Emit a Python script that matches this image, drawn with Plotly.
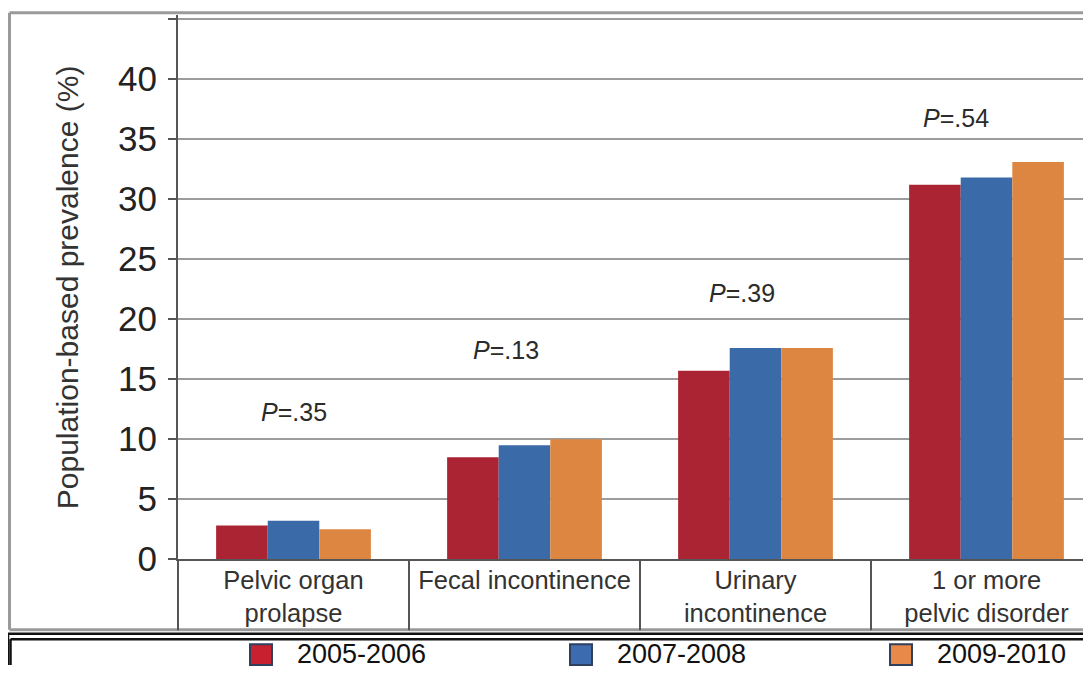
import plotly.graph_objects as go

# ---- data ----
categories = ["Pelvic organ<br>prolapse", "Fecal incontinence", "Urinary<br>incontinence", "1 or more<br>pelvic disorder"]
series_names = ["2005-2006", "2007-2008", "2009-2010"]
vals_2005_2006 = [2.8, 8.5, 15.7, 31.2]
vals_2007_2008 = [3.2, 9.5, 17.6, 31.8]
vals_2009_2010 = [2.5, 10.0, 17.6, 33.1]
p_labels = ["<i>P</i>=.35", "<i>P</i>=.13", "<i>P</i>=.39", "<i>P</i>=.54"]
y_ticks = [0, 5, 10, 15, 20, 25, 30, 35, 40, 45]

# ---- style / geometry ----
WIN_W = 1091
OFF = 8          # page body margin
S = 0.972        # observed vertical page-to-picture scale
W, H = WIN_W - 2 * OFF, 676
FONT = "Liberation Sans, Arial, Helvetica, sans-serif"
bar_colors = ["#AA2434", "#3B6AA9", "#DD8642"]
legend_colors = ["#C8202E", "#3D6BB0", "#E8894A"]

def px_x(p):
    return min(max((p - OFF) / W, 0.0), 1.0)

def px_y(p):
    return min(max(1 - (p / S - OFF) / H, 0.0), 1.0)

x_pos = list(range(len(categories)))
series_vals = [vals_2005_2006, vals_2007_2008, vals_2009_2010]

fig = go.Figure()
for name, vals, col in zip(series_names, series_vals, bar_colors):
    fig.add_trace(go.Bar(x=x_pos, y=vals, name=name, marker=dict(color=col, line=dict(width=0)),
                         showlegend=False))

x_left_px, cat_w_px = 178, 231
y_zero_px, y_unit_px, y_top_px = 559, 12.0, 15
x_range = [-0.5, -0.5 + (OFF + W - x_left_px) / cat_w_px]
y_range = [0, (y_zero_px - y_top_px) / y_unit_px]

fig.update_layout(
    width=W, height=H, autosize=False,
    margin=dict(l=0, r=0, t=0, b=0),
    paper_bgcolor="white", plot_bgcolor="white",
    barmode="group", bargap=0.33, bargroupgap=0,
    font=dict(family=FONT, color="#2b2b2b"),
    xaxis=dict(
        domain=[px_x(x_left_px), 1], range=x_range,
        tickvals=x_pos, ticktext=categories,
        tickfont=dict(size=25.5, color="#333333", family=FONT),
        ticks="", showgrid=False, zeroline=False,
        showline=True, linecolor="#555555", linewidth=2,
        ticklabelstandoff=-3,
    ),
    yaxis=dict(
        domain=[px_y(y_zero_px), px_y(y_top_px)], range=y_range,
        tickvals=y_ticks, ticktext=[str(t) for t in y_ticks],
        tickfont=dict(size=35, color="#222222", family=FONT),
        ticks="outside", ticklen=8, tickwidth=2, tickcolor="#555555",
        showgrid=True, gridcolor="#9c9c9c", gridwidth=2,
        zeroline=False, showline=True, linecolor="#555555", linewidth=2,
        ticklabelstandoff=4,
    ),
)

shapes = []
# cover above frame
shapes.append(dict(type="rect", xref="paper", yref="paper", x0=0, x1=1, y0=px_y(12), y1=1,
                   fillcolor="white", line=dict(width=0), layer="above"))
# outer gray frame (left, top, bottom edges)
frame_style = dict(color="#9a9a9a", width=3)
shapes.append(dict(type="line", xref="paper", yref="paper", x0=px_x(9.5), x1=px_x(9.5),
                   y0=px_y(629.5), y1=px_y(12.5), line=frame_style, layer="above"))
shapes.append(dict(type="line", xref="paper", yref="paper", x0=px_x(9.5), x1=1,
                   y0=px_y(12.5), y1=px_y(12.5), line=frame_style, layer="above"))
shapes.append(dict(type="line", xref="paper", yref="paper", x0=px_x(9.5), x1=1,
                   y0=px_y(629.5), y1=px_y(629.5), line=frame_style, layer="above"))
# y axis line extension below the zero line
shapes.append(dict(type="line", xref="paper", yref="paper", x0=px_x(x_left_px), x1=px_x(x_left_px),
                   y0=px_y(y_zero_px), y1=px_y(630), line=dict(color="#555555", width=2)))
# category separators
for i in range(1, len(categories)):
    xs = i - 0.5
    shapes.append(dict(type="line", xref="x", yref="paper", x0=xs, x1=xs,
                       y0=px_y(y_zero_px), y1=px_y(630), line=dict(color="#555555", width=2)))
# legend box: white fill + double black border (top and left edges visible)
shapes.append(dict(type="rect", xref="paper", yref="paper", x0=px_x(5), x1=1,
                   y0=0, y1=px_y(633.5), fillcolor="white", line=dict(width=0), layer="above"))
black2 = dict(color="#111111", width=2.5)
shapes.append(dict(type="line", xref="paper", yref="paper", x0=px_x(4), x1=1,
                   y0=px_y(633.5), y1=px_y(633.5), line=black2, layer="above"))
shapes.append(dict(type="line", xref="paper", yref="paper", x0=px_x(5), x1=px_x(5),
                   y0=0, y1=px_y(633.5), line=black2, layer="above"))
shapes.append(dict(type="line", xref="paper", yref="paper", x0=px_x(10.5), x1=1,
                   y0=px_y(639), y1=px_y(639), line=black2, layer="above"))
shapes.append(dict(type="line", xref="paper", yref="paper", x0=px_x(10.5), x1=px_x(10.5),
                   y0=0, y1=px_y(639), line=black2, layer="above"))

annotations = []
# legend entries
leg_x = [250, 570, 890]
for name, col, lx in zip(series_names, legend_colors, leg_x):
    shapes.append(dict(type="rect", xref="paper", yref="paper", x0=px_x(lx), x1=px_x(lx + 22),
                       y0=px_y(665), y1=px_y(644), fillcolor=col,
                       line=dict(color="#2f3f5e", width=2), layer="above"))
    annotations.append(dict(xref="paper", yref="paper", x=px_x(lx + 45), y=px_y(654),
                            xanchor="left", yanchor="middle", text=name, showarrow=False,
                            font=dict(size=27, color="#111111", family=FONT)))

# P-value labels (offset from group centre, height in data units)
p_dx = [0.0, -0.08, -0.06, -0.13]
p_y = [12.25, 17.4, 22.2, 36.8]
for i, (lab, dx, yy) in enumerate(zip(p_labels, p_dx, p_y)):
    annotations.append(dict(xref="x", yref="y", x=x_pos[i] + dx, y=yy, text=lab, showarrow=False,
                            xanchor="center", yanchor="middle",
                            font=dict(size=25, color="#2b2b2b", family=FONT)))

# y axis title
annotations.append(dict(xref="paper", yref="paper", x=px_x(67), y=px_y(287),
                        text="Population-based prevalence (%)", textangle=-90, showarrow=False,
                        xanchor="center", yanchor="middle",
                        font=dict(size=30, color="#333333", family=FONT)))

fig.update_layout(shapes=shapes, annotations=annotations)
fig.write_html("out.html")
